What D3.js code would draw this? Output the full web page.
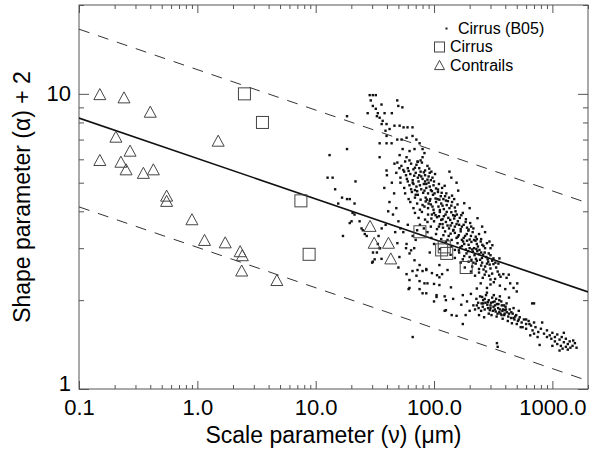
<!DOCTYPE html>
<html>
<head>
<meta charset="utf-8">
<script src="https://cdn.jsdelivr.net/npm/d3@7"></script>
<style>
  body { margin: 0; background: #fff; }
  svg { display: block; }
  text { font-family: "Liberation Sans", Arial, Helvetica, sans-serif; fill: #000; }
</style>
</head>
<body>
<svg id="chart" width="589" height="453"></svg>
<script>
// ---- data: [scale parameter nu (um), shape parameter alpha + 2] ----
var contrails = [
  [0.15, 9.98], [0.24, 9.73], [0.40, 8.7], [0.205, 7.16], [0.27, 6.42],
  [0.15, 5.97], [0.226, 5.89], [0.25, 5.55], [0.35, 5.40], [0.425, 5.55],
  [0.55, 4.52], [0.55, 4.34], [0.90, 3.76], [1.5, 6.94], [1.15, 3.2],
  [1.72, 3.14], [2.3, 2.93], [2.4, 2.84], [2.37, 2.52], [4.7, 2.34],
  [28.8, 3.57], [31.2, 3.13], [41.2, 3.13], [43.1, 2.77]
];

var cirrus = [
  [2.5, 10.0], [3.55, 8.0], [7.5, 4.34], [8.8, 2.86], [76, 3.41],
  [116, 2.96], [122, 3.03], [128, 2.88], [187, 2.58]
];

var cirrusB05 = [
  // upper tip
  [28.6,9.9],[30.4,9.9],[32.2,9.9],[29.2,9.5],[30.4,9.1],[32.2,8.9],[33.5,8.6],[32.9,8.4],[27.5,8.6],[34.7,8.3],
  [36.8,8.1],[39.7,7.9],[48.9,9.5],[49.9,9.1],[54,9.0],[44,8.6],[36,9.2],[38.2,8.6],[36.1,7.9],[38.9,7.5],
  [42.1,7.6],[46.3,7.8],[51.2,7.8],[55.3,7.7],[59.7,7.7],[65.8,7.7],[18.4,8.4],[13.1,6.2],[18.4,6.5],[34.7,6.8],
  [39.7,7.2],[39.7,6.8],[43.8,6.8],[48.9,7.0],[53.2,7.0],[58.6,7.1],[65.8,7.2],[70.9,7.0],[75.5,6.8],[80,6.5],
  [83,6.3],[80,6.1],[34.7,6.1],[39.7,5.5],[46.3,5.8],[51.2,6.2],[54.3,6.5],[58.6,6.1],[62.1,6.4],[68.4,6.5],[72.5,5.9],
  // left scatter
  [12.6,5.2],[13.9,5.2],[14.6,4.75],[16.7,4.45],[18.4,4.4],[19.4,4.4],[21.3,4.25],[15.5,4.25],[21.7,5.05],[20.5,3.95],
  [21.3,3.9],[20.1,3.7],[19.4,3.65],[23.5,3.7],[24.4,3.5],[17,3.3],[36.1,3.5],[33.5,3.1],[32.9,2.9],[30.4,2.7],[34.7,3.0],
  [25,3.45],[26,3.35],[27,3.3],[34,3.3],[35,3.0],[30.5,2.9],[31.5,2.75],[36,2.76],[30,2.68],
  [40,5.3],[44,5.0],[38,4.8],[46,4.6],[42,4.3],[48,4.1],[45,3.9],[50,3.7],[47,3.4],[52,3.5],[41,4.0],[39,3.6],
  [55,3.4],[60,3.6],[66,3.3],[58,3.0],[70,3.2],[64,2.95],[72,3.45],[68,3.0],
  // dense core
  [49,5.85],[53,5.7],[57,5.9],[60,5.6],[64,5.8],[67,5.55],[71,5.75],[75,5.6],[79,5.85],[84,5.5],[88,5.7],[55,5.52],[62,5.95],[69,5.62],[77,5.95],[91,5.58],[51,5.6],[73,5.88],
  [48,5.4],[52,5.2],[56,5.45],[59,5.15],[63,5.35],[66,5.1],[70,5.4],[73,5.2],[77,5.45],[80,5.15],[84,5.3],[88,5.12],[92,5.4],[97,5.2],[102,5.35],[61,5.48],[68,5.28],[75,5.3],[82,5.42],[90,5.25],[58,5.3],[95,5.45],
  [52,5.0],[56,4.8],[60,5.05],[64,4.75],[67,4.95],[71,4.85],[74,5.05],[78,4.75],[82,4.95],[86,4.8],[90,5.0],[94,4.72],[99,4.9],[104,4.78],[110,4.95],[117,4.8],[123,4.88],[62,4.9],[69,4.72],[76,4.9],[84,5.05],[92,4.85],[100,5.05],[108,4.74],
  [57,4.6],[61,4.4],[65,4.65],[69,4.45],[73,4.55],[77,4.38],[81,4.62],[85,4.45],[89,4.6],[93,4.4],[98,4.55],[103,4.42],[108,4.65],[114,4.5],[120,4.4],[127,4.6],[134,4.45],[142,4.52],[148,4.4],[72,4.68],[87,4.38],[96,4.68],[111,4.38],[124,4.5],
  [63,4.3],[67,4.1],[72,4.25],[76,4.05],[80,4.2],[85,4.32],[89,4.1],[94,4.22],[99,4.05],[104,4.3],[109,4.15],[115,4.25],[121,4.07],[128,4.2],[135,4.1],[142,4.3],[150,4.12],[158,4.22],[92,4.34],[112,4.04],[131,4.33],[97,4.15],[118,4.18],[83,4.15],
  [69,3.95],[74,3.8],[79,3.98],[84,3.75],[89,3.9],[95,3.78],[100,3.95],[106,3.82],[112,3.98],[118,3.76],[125,3.9],[132,3.8],[140,3.97],[148,3.78],[156,3.9],[165,3.8],[175,3.95],[186,3.76],[103,3.88],[121,3.85],[137,3.74],[152,4.0],[115,3.74],[145,3.88],
  [76,3.6],[82,3.5],[88,3.68],[94,3.55],[100,3.7],[106,3.48],[112,3.62],[119,3.52],[126,3.68],[134,3.5],[142,3.65],[150,3.55],[159,3.7],[168,3.48],[178,3.6],[190,3.52],[202,3.65],[215,3.5],[130,3.58],[146,3.46],[163,3.6],[185,3.68],[110,3.55],[196,3.47],
  [88,3.4],[95,3.25],[104,3.35],[115,3.22],[124,3.42],[133,3.3],[141,3.2],[150,3.38],[159,3.28],[168,3.42],[178,3.25],[189,3.35],[200,3.21],[212,3.4],[225,3.28],[240,3.35],[250,3.22],[145,3.44],[172,3.2],[195,3.44],[218,3.2],[162,3.32],[130,3.2],[183,3.3],
  [100,3.1],[112,2.98],[126,3.15],[140,3.05],[150,2.96],[158,3.12],[167,3.02],[176,3.16],[186,2.97],[196,3.08],[207,3.15],[218,3.0],[230,3.1],[242,2.96],[256,3.08],[270,3.0],[280,3.12],[162,2.95],[190,3.18],[224,3.18],[248,3.16],[172,3.05],[210,2.97],[235,3.04],
  [138,2.85],[150,2.78],[163,2.9],[175,2.75],[188,2.88],[200,2.8],[213,2.92],[226,2.76],[240,2.86],[254,2.78],[268,2.9],[284,2.75],[300,2.84],[318,2.77],[232,2.93],[207,2.74],[260,2.85],[194,2.93],[276,2.8],[245,2.74],
  [168,2.68],[182,2.58],[196,2.7],[210,2.6],[225,2.66],[240,2.55],[255,2.68],[270,2.6],[287,2.7],[300,2.56],[318,2.65],[335,2.58],[350,2.66],[262,2.54],[230,2.72],[295,2.64],
  [205,2.5],[222,2.42],[240,2.48],[258,2.38],[275,2.5],[292,2.42],[310,2.46],[328,2.36],[345,2.5],[365,2.4],[385,2.45],[410,2.38],[428,2.44],[300,2.35],[268,2.44],[355,2.44],
  [248,2.28],[280,2.2],[320,2.3],[360,2.24],[400,2.18],[440,2.28],[470,2.2],[300,2.26],[230,2.19],
  [66,5.0],[78,5.25],[86,4.95],[94,5.1],[70,4.55],[83,4.7],[101,4.6],[116,4.62],[90,4.25],[107,4.4],[126,4.35],[140,4.18],[96,3.9],[110,3.85],[128,3.98],[150,3.86],[170,3.88],[118,3.62],[138,3.58],[155,3.62],
  [172,3.55],[206,3.55],[120,3.32],[138,3.36],[155,3.25],[205,3.3],[230,3.22],[180,3.1],[200,3.0],[228,2.98],[262,3.05],[180,2.82],[220,2.84],[250,2.9],[290,2.88],[215,2.68],[280,2.66],[310,2.72],[250,2.62],[330,2.68],
  // right edge of the band
  [155,5.0],[180,4.26],[233,3.79],[255,3.55],[294,3.16],[311,3.07],[357,2.77],[140,5.2],[135,5.45],[160,4.7],[200,4.1],[270,3.4],[300,3.0],
  // scatter below the band
  [58.6,3.1],[62.1,2.88],[68.4,2.73],[75.5,2.63],[86,2.53],[96,2.47],[111,2.39],[62,2.2],[80,2.11],[105,2.05],[126,2.0],[126,1.85],[141,1.78],[66,1.5],
  [62,2.34],[49,3.12],[51,2.8],[50,2.58],[71,2.42],[88,2.28],[111,2.63],[130,2.53],[92,2.9],[139,2.21],
  [58.6,2.45],[65.8,2.51],[72.5,2.53],[80,2.51],[86,2.55],[106,2.43],[117,2.45],[75.5,2.32],[83,2.28],[100,2.27],[111,2.25],[61,2.18],[75.5,2.18],[86,2.11],[105,2.08],[123,2.06],[100,1.98],[123,1.84],
  // lower cluster
  [175,2.08],[190,1.98],[205,2.1],[215,1.92],[228,2.02],[238,1.88],[245,2.06],[252,1.95],[260,2.0],[268,1.86],[275,2.08],[282,1.93],[290,2.0],[296,1.85],[303,1.96],[310,2.04],[318,1.9],[325,1.98],[332,1.83],[340,1.94],
  [348,1.88],[356,2.0],[365,1.8],[374,1.92],[383,1.86],[392,1.78],[402,1.9],[412,1.82],[424,1.76],[436,1.86],[448,1.74],[462,1.8],[478,1.72],[495,1.78],[512,1.7],[530,1.75],[550,1.68],[575,1.72],[600,1.66],[630,1.7],
  [660,1.64],[700,1.68],[258,1.9],[272,1.96],[286,1.88],[300,1.92],[314,1.84],[328,1.92],[344,1.8],[360,1.86],[378,1.84],[396,1.85],[268,2.02],[250,1.84],[236,1.96],[222,1.86],[290,1.8],[306,1.78],[338,1.76],[420,1.7],
  [455,1.67],[280,2.12],[320,2.08],[360,2.06],[200,1.84],[185,1.78],[240,1.78],[380,1.73],[500,1.66],[540,1.62],[170,1.93],[265,1.75],[470,1.88],[520,1.84],[410,1.95],[430,2.04],
  [255,2.05],[285,1.97],[315,1.97],[335,2.02],[350,1.94],[370,1.98],[390,1.92],[405,1.86],[300,1.88],[326,1.86],[356,1.82],[372,1.78],[430,1.8],[450,1.82],[485,1.76],[260,1.95],[230,1.92],[395,1.8],[470,1.74],[520,1.72],
  [175,1.66],[340,1.43],[345,1.39],[780,1.41],[145,2.02],[155,1.77],[700,1.95],[500,2.14],[675,1.95],[505,2.28],
  // tail
  [560,1.62],[600,1.6],[640,1.66],[680,1.58],[720,1.62],[760,1.56],[800,1.6],[850,1.54],[900,1.58],[950,1.52],[1000,1.55],[1050,1.5],[1100,1.53],[1150,1.47],[1200,1.5],[1250,1.44],[1300,1.48],[1350,1.42],[1400,1.45],[1480,1.4],
  [1550,1.43],[1600,1.38],[1100,1.42],[1180,1.4],[1050,1.45],[1220,1.37],[980,1.48],[1300,1.39],[900,1.5],[1420,1.38],[1250,1.55],[750,1.5],[820,1.68],[700,1.54],[650,1.52],[1150,1.35],[1350,1.36],[1000,1.4],[600,1.72],[1500,1.46]
];

// power-law fit alpha+2 = a * nu^b, with the dashed bounds at x0.5 and x2
var fitCoef = [6.04, -0.137];
var boundFactors = [0.5, 2];

var xMajor = [0.1, 1, 10, 100, 1000];
var yMajor = [1, 10];

var legendItems = ['Cirrus (B05)', 'Cirrus', 'Contrails'];

// ---- layout ----
var W = 589, H = 453;
var margin = { top: 5, right: 1, bottom: 64, left: 79 };
var width = W - margin.left - margin.right;
var height = H - margin.top - margin.bottom;

var svg = d3.select('#chart');
var g = svg.append('g').attr('transform', 'translate(' + margin.left + ',' + margin.top + ')');

var x = d3.scaleLog().domain([0.1, 2000]).range([0, width]);
var y = d3.scaleLog().domain([1, 20]).range([height, 0]);

var xMinor = x.ticks().filter(function (d) { return xMajor.indexOf(d) < 0; });
var yMinor = y.ticks().filter(function (d) { return yMajor.indexOf(d) < 0; });

svg.append('defs').append('clipPath').attr('id', 'clip')
  .append('rect').attr('width', width).attr('height', height);

var axisColor = '#555';

function styleAxis(sel) {
  sel.select('.domain').remove();
  sel.selectAll('.tick line').attr('stroke', axisColor).attr('stroke-width', 1);
  sel.selectAll('.tick text').attr('font-size', 22).attr('fill', '#000');
}

// bottom
g.append('g').attr('transform', 'translate(0,' + height + ')')
  .call(d3.axisBottom(x).tickValues(xMajor).tickSize(-8).tickPadding(10).tickFormat(d3.format('.1f')))
  .call(styleAxis);
g.append('g').attr('transform', 'translate(0,' + height + ')')
  .call(d3.axisBottom(x).tickValues(xMinor).tickSize(-4).tickFormat(''))
  .call(styleAxis);
// top
g.append('g')
  .call(d3.axisTop(x).tickValues(xMajor).tickSize(-8).tickFormat(''))
  .call(styleAxis);
g.append('g')
  .call(d3.axisTop(x).tickValues(xMinor).tickSize(-4).tickFormat(''))
  .call(styleAxis);
// left
g.append('g')
  .call(d3.axisLeft(y).tickValues(yMajor).tickSize(-10).tickPadding(8).tickFormat(d3.format('d')))
  .call(styleAxis)
  .selectAll('.tick text').filter(function (d) { return d === 1; }).attr('dy', '0.05em');
g.append('g')
  .call(d3.axisLeft(y).tickValues(yMinor).tickSize(-5).tickFormat(''))
  .call(styleAxis);
// right
g.append('g').attr('transform', 'translate(' + width + ',0)')
  .call(d3.axisRight(y).tickValues(yMajor).tickSize(-10).tickFormat(''))
  .call(styleAxis);
g.append('g').attr('transform', 'translate(' + width + ',0)')
  .call(d3.axisRight(y).tickValues(yMinor).tickSize(-5).tickFormat(''))
  .call(styleAxis);

// frame
g.append('rect').attr('width', width).attr('height', height)
  .attr('fill', 'none').attr('stroke', axisColor).attr('stroke-width', 1);

var plot = g.append('g').attr('clip-path', 'url(#clip)');

// fit lines
var line = d3.line()
  .x(function (d) { return x(d[0]); })
  .y(function (d) { return y(d[1]); });

function fitLine(f) {
  return x.domain().map(function (nu) {
    return [nu, f * fitCoef[0] * Math.pow(nu, fitCoef[1])];
  });
}

boundFactors.forEach(function (f) {
  plot.append('path').datum(fitLine(f))
    .attr('d', line).attr('fill', 'none')
    .attr('stroke', '#333').attr('stroke-width', 1)
    .attr('stroke-dasharray', '11,9');
});
plot.append('path').datum(fitLine(1))
  .attr('d', line).attr('fill', 'none')
  .attr('stroke', '#111').attr('stroke-width', 1.6);

// B05 dots
plot.selectAll('.dot').data(cirrusB05).enter()
  .append('rect').attr('class', 'dot')
  .attr('x', function (d) { return x(d[0]) - 1.2; })
  .attr('y', function (d) { return y(d[1]) - 1.2; })
  .attr('width', 2.4).attr('height', 2.4)
  .attr('fill', '#111');

var symColor = '#444';
function triPath(s) {
  var h2 = s * 0.46;
  return 'M0,' + (-h2) + 'L' + (s / 2) + ',' + h2 + 'L' + (-s / 2) + ',' + h2 + 'Z';
}

// cirrus squares
plot.selectAll('.sq').data(cirrus).enter()
  .append('rect').attr('class', 'sq')
  .attr('x', function (d) { return x(d[0]) - 6; })
  .attr('y', function (d) { return y(d[1]) - 6; })
  .attr('width', 12).attr('height', 12)
  .attr('fill', 'none').attr('stroke', symColor).attr('stroke-width', 1);

// contrail triangles
plot.selectAll('.tri').data(contrails).enter()
  .append('path').attr('class', 'tri')
  .attr('transform', function (d) { return 'translate(' + x(d[0]) + ',' + y(d[1]) + ')'; })
  .attr('d', triPath(12))
  .attr('fill', 'none').attr('stroke', symColor).attr('stroke-width', 1);

// legend
var lg = svg.append('g').attr('font-size', 16);
lg.append('rect').attr('x', 445.5).attr('y', 27.5).attr('width', 2).attr('height', 2).attr('fill', '#1a1a1a');
lg.append('text').attr('x', 458).attr('y', 33.5).text(legendItems[0]);
lg.append('rect').attr('x', 434.5).attr('y', 42).attr('width', 10).attr('height', 10)
  .attr('fill', 'none').attr('stroke', symColor);
lg.append('text').attr('x', 450).attr('y', 52).text(legendItems[1]);
lg.append('path').attr('transform', 'translate(439.5,65)').attr('d', triPath(10))
  .attr('fill', 'none').attr('stroke', symColor);
lg.append('text').attr('x', 450).attr('y', 70.5).text(legendItems[2]);

// axis titles
svg.append('text')
  .attr('x', margin.left + width / 2).attr('y', 443)
  .attr('text-anchor', 'middle').attr('font-size', 23)
  .text('Scale parameter (\u03bd) (\u03bcm)');
svg.append('text')
  .attr('transform', 'translate(30,197) rotate(-90)')
  .attr('text-anchor', 'middle').attr('font-size', 23)
  .text('Shape parameter (\u03b1) + 2');
</script>
</body>
</html>
